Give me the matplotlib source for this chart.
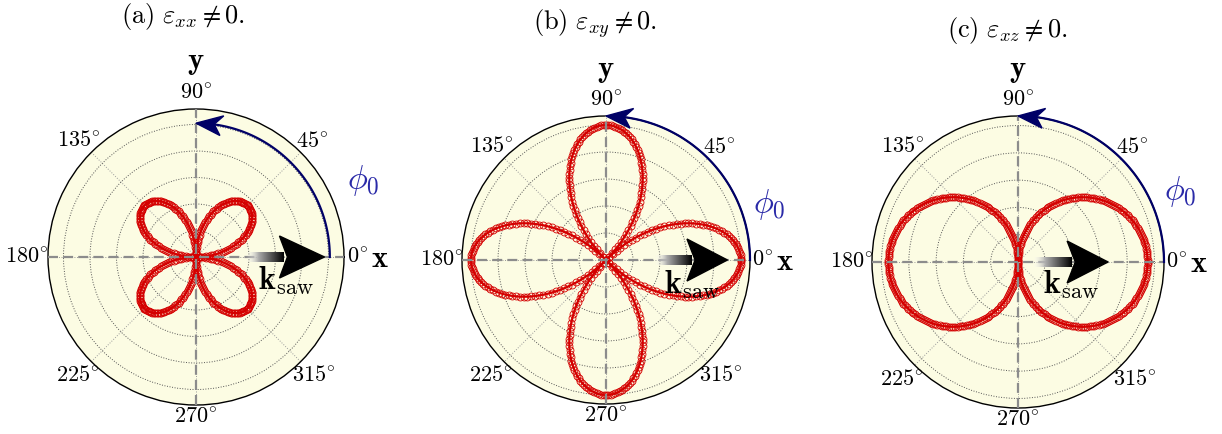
import numpy as np
import matplotlib
matplotlib.use('Agg')
import matplotlib.pyplot as plt
from matplotlib.patches import Polygon

plt.rcParams['mathtext.fontset'] = 'cm'
plt.rcParams['font.family'] = 'serif'

# angles of the sampled points (deg)
theta_deg = np.arange(0, 360, 1)

# radius, one quarter turn each (0..89 deg)
r_quarter_a = [0.000, 0.019, 0.038, 0.057, 0.077, 0.095, 0.114, 0.133, 0.152, 0.170,
               0.188, 0.206, 0.224, 0.241, 0.258, 0.275, 0.291, 0.308, 0.323, 0.339,
               0.354, 0.368, 0.382, 0.396, 0.409, 0.421, 0.433, 0.445, 0.456, 0.466,
               0.476, 0.486, 0.494, 0.502, 0.510, 0.517, 0.523, 0.529, 0.534, 0.538,
               0.542, 0.545, 0.547, 0.549, 0.550, 0.550, 0.550, 0.549, 0.547, 0.545,
               0.542, 0.538, 0.534, 0.529, 0.523, 0.517, 0.510, 0.502, 0.494, 0.486,
               0.476, 0.466, 0.456, 0.445, 0.433, 0.421, 0.409, 0.396, 0.382, 0.368,
               0.354, 0.339, 0.323, 0.308, 0.291, 0.275, 0.258, 0.241, 0.224, 0.206,
               0.188, 0.170, 0.152, 0.133, 0.114, 0.095, 0.077, 0.057, 0.038, 0.019]
r_quarter_b = [1.000, 0.999, 0.998, 0.995, 0.990, 0.985, 0.978, 0.970, 0.961, 0.951,
               0.940, 0.927, 0.914, 0.899, 0.883, 0.866, 0.848, 0.829, 0.809, 0.788,
               0.766, 0.743, 0.719, 0.695, 0.669, 0.643, 0.616, 0.588, 0.559, 0.530,
               0.500, 0.469, 0.438, 0.407, 0.375, 0.342, 0.309, 0.276, 0.242, 0.208,
               0.174, 0.139, 0.105, 0.070, 0.035, 0.000, 0.035, 0.070, 0.105, 0.139,
               0.174, 0.208, 0.242, 0.276, 0.309, 0.342, 0.375, 0.407, 0.438, 0.469,
               0.500, 0.530, 0.559, 0.588, 0.616, 0.643, 0.669, 0.695, 0.719, 0.743,
               0.766, 0.788, 0.809, 0.829, 0.848, 0.866, 0.883, 0.899, 0.914, 0.927,
               0.940, 0.951, 0.961, 0.970, 0.978, 0.985, 0.990, 0.995, 0.998, 0.999]
r_quarter_c = [0.950, 0.950, 0.949, 0.949, 0.948, 0.946, 0.945, 0.943, 0.941, 0.938,
               0.936, 0.933, 0.929, 0.926, 0.922, 0.918, 0.913, 0.908, 0.904, 0.898,
               0.893, 0.887, 0.881, 0.874, 0.868, 0.861, 0.854, 0.846, 0.839, 0.831,
               0.823, 0.814, 0.806, 0.797, 0.788, 0.778, 0.769, 0.759, 0.749, 0.738,
               0.728, 0.717, 0.706, 0.695, 0.683, 0.672, 0.660, 0.648, 0.636, 0.623,
               0.611, 0.598, 0.585, 0.572, 0.558, 0.545, 0.531, 0.517, 0.503, 0.489,
               0.475, 0.461, 0.446, 0.431, 0.416, 0.401, 0.386, 0.371, 0.356, 0.340,
               0.325, 0.309, 0.294, 0.278, 0.262, 0.246, 0.230, 0.214, 0.198, 0.181,
               0.165, 0.149, 0.132, 0.116, 0.099, 0.083, 0.066, 0.050, 0.033, 0.017]

r_a = np.tile(r_quarter_a, 4)
r_b = np.tile(r_quarter_b, 4)
r_c = np.tile(r_quarter_c + [0.0] + r_quarter_c[:0:-1], 2)

titles = [r'$\mathrm{(a)}\ \varepsilon_{xx} \neq 0.$',
          r'$\mathrm{(b)}\ \varepsilon_{xy} \neq 0.$',
          r'$\mathrm{(c)}\ \varepsilon_{xz} \neq 0.$']
angle_labels = [r'$0^{\!\circ}$', r'$45^{\!\circ}$', r'$90^{\!\circ}$', r'$135^{\!\circ}$',
                r'$180^{\!\circ}$', r'$225^{\!\circ}$', r'$270^{\!\circ}$', r'$315^{\!\circ}$']
label_r = [1.09, 1.11, 1.11, 1.12, 1.14, 1.13, 1.08, 1.13]
ring_ticks = [0.2, 0.4, 0.6, 0.8, 1.0]

W, H = 1222, 434
fig = plt.figure(figsize=(W / 100, H / 100), dpi=100)

# layout per panel: centre (px), radius (px), rmax, title pos, arrow, labels
panels = [
    dict(r=r_a, cx=196, cy=257, R=148, rmax=1.117, tx=183, ty=17,
         arrow=(0.38, 0.63, 0.97), arc_r=1.01, ksaw=(0.68, -0.18), phi=(1.26, 0.58)),
    dict(r=r_b, cx=606, cy=260, R=144, rmax=1.067, tx=595, ty=24,
         arrow=(0.36, 0.60, 0.90), arc_r=1.067, ksaw=(0.64, -0.185), phi=(1.21, 0.41)),
    dict(r=r_c, cx=1018, cy=262, R=146, rmax=1.07, tx=1007, ty=30,
         arrow=(0.11, 0.36, 0.66), arc_r=1.07, ksaw=(0.39, -0.17), phi=(1.19, 0.52)),
]

for p, title in zip(panels, titles):
    rect = [(p['cx'] - p['R']) / W, (H - p['cy'] - p['R']) / H, 2 * p['R'] / W, 2 * p['R'] / H]
    rmax = p['rmax']

    ax = fig.add_axes(rect, projection='polar')
    ax.set_facecolor('#fcfce3')
    th = np.deg2rad(np.append(theta_deg, 360))
    rr = np.append(p['r'], p['r'][0])
    ax.plot(th, rr, color='#d40000', lw=1.6, marker='o', ms=5, mfc='none', mew=0.6)
    ax.set_ylim(0, rmax)
    ax.set_rticks(ring_ticks)
    ax.set_yticklabels([])
    ax.set_thetagrids(range(0, 360, 45), labels=[''] * 8)
    ax.yaxis.grid(True, ls=':', color='#555555', lw=0.7)
    ax.xaxis.grid(True, ls=':', color='#9a9a9a', lw=0.7)
    ax.spines['polar'].set_linewidth(1.0)

    ov = fig.add_axes(rect)
    ov.axis('off')
    ov.patch.set_visible(False)
    s = p['R'] / rmax  # px per unit

    # dashed x / y axes
    ov.plot([-rmax, rmax], [0, 0], color='#8c8c8c', lw=1.6, ls=(0, (4.5, 2.3)))
    ov.plot([0, 0], [-rmax, rmax], color='#8c8c8c', lw=1.6, ls=(0, (4.5, 2.3)))

    # k_saw arrow with fading tail
    tail, base, tip = p['arrow']
    hw = 21 / s
    sw = 5 / s
    n = 256
    grad = np.zeros((1, n, 4))
    g = np.linspace(0, 1, n)
    grad[0, :, 0] = grad[0, :, 1] = grad[0, :, 2] = 1 - g
    grad[0, :, 3] = np.clip(g * 3, 0, 1)
    ov.imshow(grad, extent=[tail, base + 0.03, -sw, sw], aspect='auto', zorder=4)
    ov.add_patch(Polygon([[base, hw], [tip, 0], [base, -hw], [base + 0.06, 0]],
                         closed=True, color='black', zorder=5))
    ov.set_xlim(-rmax, rmax)
    ov.set_ylim(-rmax, rmax)

    # phi0 arc with head at 90 deg
    ra = p['arc_r']
    L = 26 / s
    d = L / ra
    ang = np.linspace(0, np.pi / 2 - d * 0.7, 100)
    ov.plot(ra * np.cos(ang), ra * np.sin(ang), color='#000066', lw=1.6, clip_on=False,
            zorder=6)
    w = 10 / s
    bx, by = ra * np.sin(d), ra * np.cos(d)
    ux, uy = np.sin(d), np.cos(d)
    nx, ny = bx - 0.3 * L * np.cos(d), by + 0.3 * L * np.sin(d)
    ov.add_patch(Polygon([[0, ra], [bx + w * ux, by + w * uy], [nx, ny],
                          [bx - w * ux, by - w * uy]],
                         closed=True, color='#000066', clip_on=False, zorder=6))

    # angle labels
    for k, lab in enumerate(angle_labels):
        a = np.deg2rad(45 * k)
        lr = label_r[k] * rmax
        ov.text(lr * np.cos(a), lr * np.sin(a), lab, fontsize=16,
                ha='center', va='center', clip_on=False)
    ov.text(1.24 * rmax, -0.01 * rmax, r'$\mathbf{x}$', fontsize=22, ha='center', va='center',
            clip_on=False)
    ov.text(0, 1.32 * rmax, r'$\mathbf{y}$', fontsize=22, ha='center', va='center',
            clip_on=False)
    ov.text(p['ksaw'][0], p['ksaw'][1], r'$\mathbf{k}_{\mathrm{saw}}$', fontsize=23,
            ha='center', va='center', zorder=7)
    ov.text(p['phi'][0], p['phi'][1], r'$\phi_0$', fontsize=24, color='#2a2aa8',
            ha='center', va='center', clip_on=False)

    fig.text(p['tx'] / W, 1 - p['ty'] / H, title, fontsize=19, ha='center', va='center')

fig.savefig('out.png', dpi=100)
